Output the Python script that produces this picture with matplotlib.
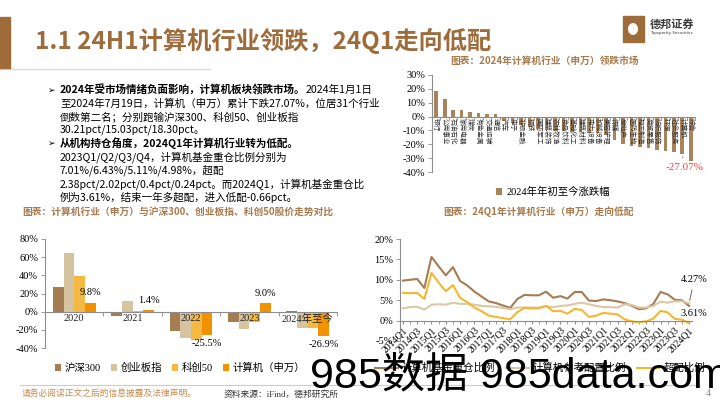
import matplotlib
matplotlib.use('Agg')
import matplotlib.pyplot as plt
from matplotlib.patches import Rectangle, Ellipse
from matplotlib.lines import Line2D
import numpy as np

W, H = 720, 405
SERIF = ['Liberation Serif', 'Noto Sans CJK SC']
CJK = ['Noto Sans CJK SC', 'DejaVu Sans']
BROWN = '#9E6B3B'
CAP = '#A87A4E'

# ---- data: top-right chart (industries, YTD 2024 %)
industries = ['银行', '公用事业', '石油石化', '家用电器', '煤炭', '有色金属', '交通运输', '通信',
              '汽车', '电子', '非银金融', '钢铁', '国防军工', '建筑装饰', '农林牧渔', '食品饮料',
              '基础化工', '建筑材料', '电力设备', '机械设备', '美容护理', '传媒', '房地产',
              '医药生物', '轻工制造', '商贸零售', '纺织服饰', '环保', '社会服务', '计算机', '综合']
ind_ret = [18.3, 12.4, 5.1, 4.4, 3.4, 2.9, 2.2, 1.5, -3.2, -4.9, -5.9, -7.8, -9.0, -9.5,
           -10.2, -10.5, -11.0, -11.2, -11.7, -12.2, -13.0, -17.0, -19.7, -21.2, -22.0,
           -22.9, -24.4, -25.1, -25.4, -27.07, -32.0]

# ---- data: bottom-left chart (annual returns %)
years = ['2020', '2021', '2022', '2023', '2024年至今']
hs300 = [27.2, -5.2, -21.6, -11.4, 0.3]
cyb = [65.0, 12.0, -29.4, -19.4, -18.5]
kc50 = [39.3, 0.4, -31.4, -11.2, -18.0]
computer = [9.8, 1.4, -25.5, 9.0, -26.9]

# ---- data: bottom-right chart (quarterly %, 2014Q1 .. 2024Q1)
quarters = [f'{y}Q{q}' for y in range(2014, 2025) for q in range(1, 5)][:41]
fund_hold = [9.8, 10.0, 10.2, 8.0, 15.6, 13.3, 11.1, 13.1, 9.7, 8.6, 7.1, 5.9, 4.7, 4.3,
             3.7, 3.1, 5.3, 6.3, 6.2, 6.2, 7.1, 5.6, 6.0, 5.4, 7.0, 7.0, 4.9, 4.8, 5.2,
             5.0, 4.7, 4.3, 3.6, 2.8, 3.0, 4.1, 7.01, 6.43, 5.11, 4.98, 3.61]
ref_alloc = [3.0, 3.3, 3.4, 2.7, 3.9, 4.0, 3.9, 4.4, 4.1, 4.1, 3.9, 3.6, 3.5, 3.4, 3.1,
             2.8, 3.2, 3.2, 3.2, 3.2, 3.5, 3.3, 3.6, 3.7, 4.1, 4.4, 4.0, 3.6, 3.3, 3.3,
             3.2, 4.0, 3.8, 3.2, 3.2, 3.6, 4.63, 4.41, 4.71, 4.74, 4.27]
overweight = [6.8, 6.7, 6.8, 5.3, 11.7, 9.3, 7.2, 8.7, 5.6, 4.5, 3.2, 2.3, 1.2, 0.9, 0.6,
              0.3, 2.1, 3.1, 3.0, 3.0, 3.6, 2.3, 2.4, 1.7, 2.9, 2.6, 0.9, 1.2, 1.9, 1.7,
              1.5, 0.3, -0.2, -0.4, -0.2, 0.5, 2.38, 2.02, 0.40, 0.24, -0.66]

fig = plt.figure(figsize=(7.2, 4.05), dpi=100)


def rect(x0, y0, x1, y1):
    return [x0 / W, 1 - y1 / H, (x1 - x0) / W, (y1 - y0) / H]


def put(x, y, s, **kw):
    return fig.text(x / W, 1 - y / H, s, **kw)


def style_axis(ax):
    for s in ['top', 'right']:
        ax.spines[s].set_visible(False)
    for s in ['left', 'bottom']:
        ax.spines[s].set_color('#8c8c8c')
        ax.spines[s].set_linewidth(0.8)
    ax.tick_params(axis='y', length=3, width=0.6, color='#8c8c8c', labelsize=7.5, pad=2)
    ax.tick_params(axis='x', length=0)
    for lb in ax.get_yticklabels():
        lb.set_family(SERIF)


def pct(v, _=None):
    return f'{v:.0f}%'


# ---- header
fig.patches.append(Rectangle((0, 1 - 68 / H), 10 / W, 51 / H, transform=fig.transFigure,
                             color='#9E6B3B', zorder=2))
fig.add_artist(Line2D([0, 210 / W], [1 - 69 / H] * 2, color='#d9d9d9', lw=1.0))
put(35, 41, '1.1 24H1计算机行业领跌，24Q1走向低配', family=CJK, fontsize=17.5,
    fontweight='bold', color=BROWN, va='center')
fig.patches.append(Rectangle((623 / W, 1 - 42 / H), 21 / W, 26 / H, transform=fig.transFigure,
                             color='#9E6B3B', zorder=2))
fig.patches.append(Ellipse((633 / W, 1 - 29 / H), 10 / W, 12 / H, transform=fig.transFigure,
                           fc='white', ec='none', zorder=3))
put(650, 24, '德邦证券', family=CJK, fontsize=8, fontweight='bold', color='#3a3a3a', va='center')
put(650, 33, 'Topsperity Securities', family=['DejaVu Sans'], fontsize=3, color='#3a3a3a',
    va='center')

# ---- bullet text
fs = 7.6
y0, dy = 90, 13.4
r = fig.canvas.get_renderer()
put(48, y0, '➢', family=['DejaVu Sans'], fontsize=6.5, va='center')
t = put(60, y0, '2024年受市场情绪负面影响，计算机板块领跌市场。', family=CJK, fontsize=fs,
        fontweight='bold', va='center')
bb = t.get_window_extent(r)
fig.text(bb.x1 / fig.bbox.width, 1 - y0 / H, '2024年1月1日', family=CJK, fontsize=fs, va='center')
plain = ['至2024年7月19日，计算机（申万）累计下跌27.07%，位居31个行业',
         '倒数第二名；分别跑输沪深300、科创50、创业板指',
         '30.21pct/15.03pct/18.30pct。']
for k, s in enumerate(plain):
    put(60, y0 + dy * (k + 1), s, family=CJK, fontsize=fs, va='center')
put(48, y0 + dy * 4, '➢', family=['DejaVu Sans'], fontsize=6.5, va='center')
put(60, y0 + dy * 4, '从机构持仓角度，2024Q1年计算机行业转为低配。', family=CJK, fontsize=fs,
    fontweight='bold', va='center')
plain2 = ['2023Q1/Q2/Q3/Q4，计算机基金重仓比例分别为',
          '7.01%/6.43%/5.11%/4.98%，超配',
          '2.38pct/2.02pct/0.4pct/0.24pct。而2024Q1，计算机基金重仓比',
          '例为3.61%，结束一年多超配，进入低配-0.66pct。']
for k, s in enumerate(plain2):
    put(60, y0 + dy * (k + 5), s, family=CJK, fontsize=fs, va='center')

# ---- chart captions
put(545, 61, '图表：2024年计算机行业（申万）领跌市场', family=CJK, fontsize=7, fontweight='bold',
    color=CAP, ha='center', va='center')
put(178, 212, '图表：计算机行业（申万）与沪深300、创业板指、科创50股价走势对比', family=CJK,
    fontsize=7, fontweight='bold', color=CAP, ha='center', va='center')
put(538, 212, '图表：24Q1年计算机行业（申万）走向低配', family=CJK, fontsize=7,
    fontweight='bold', color=CAP, ha='center', va='center')

# ---- top-right: industry bars
ax1 = fig.add_axes(rect(432, 75, 695, 172))
xi = np.arange(len(industries))
ax1.bar(xi, ind_ret, width=0.42, color='#A8845C', label='2024年年初至今涨跌幅')
ax1.set_xlim(-0.5, len(industries) - 0.5)
ax1.set_ylim(-40, 30)
ax1.set_yticks(range(-40, 31, 10))
ax1.yaxis.set_major_formatter(pct)
ax1.spines['bottom'].set_position(('data', 0))
ax1.set_xticks([])
style_axis(ax1)
ax1.set_xticks(np.arange(-0.5, len(industries), 1), minor=True)
ax1.tick_params(axis='x', which='minor', length=2, color='#8c8c8c', direction='out')
for i, name in enumerate(industries):
    ax1.text(i, -1.0, name, rotation=-90, fontsize=4.8, family=CJK, ha='center', va='top',
             color='#333333')
ci = industries.index('计算机')
ax1.annotate(f'{ind_ret[ci]:.2f}%', xy=(ci, ind_ret[ci]), xytext=(ci + 0.3, -37),
             fontsize=8, family=SERIF, color='#FF3B3B', ha='center', va='center',
             arrowprops=dict(arrowstyle='-', color='#555555', lw=0.6))
ax1.legend(loc='center', bbox_to_anchor=(553 / W, 1 - 192 / H), bbox_transform=fig.transFigure,
           frameon=False, handlelength=0.6, handleheight=0.6, handletextpad=0.4,
           prop={'family': SERIF, 'size': 7.5})

# ---- bottom-left: yearly grouped bars
ax2 = fig.add_axes(rect(45, 239, 337, 348))
xg = np.arange(len(years))
bw = 0.183
series = [(hs300, '沪深300', '#A67C52'), (cyb, '创业板指', '#D6C4A0'),
          (kc50, '科创50', '#F4B942'), (computer, '计算机（申万）', '#F39200')]
for k, (vals, name, col) in enumerate(series):
    ax2.bar(xg + (k - 1.5) * bw, vals, width=bw, color=col, label=name)
ax2.set_xlim(-0.5, len(years) - 0.5)
ax2.set_ylim(-40, 80)
ax2.set_yticks(range(-40, 81, 20))
ax2.yaxis.set_major_formatter(pct)
ax2.spines['bottom'].set_position(('data', 0))
ax2.set_xticks([])
style_axis(ax2)
ax2.set_xticks(np.arange(-0.5, len(years), 1), minor=True)
ax2.tick_params(axis='x', which='minor', length=3, color='#8c8c8c', direction='out')
for i, y in enumerate(years):
    ax2.text(i, -2.5, y, ha='center', va='top', fontsize=7.5, family=SERIF, color='#222222')
for i, v in enumerate(computer):
    if v > 0:
        ax2.annotate(f'{v:.1f}%', (i + 1.5 * bw, v), xytext=(0, 4), textcoords='offset points',
                     ha='center', va='bottom', fontsize=7.5, family=SERIF)
    else:
        ax2.annotate(f'{v:.1f}%', (i + 1.5 * bw, v), xytext=(0, -3), textcoords='offset points',
                     ha='center', va='top', fontsize=7.5, family=SERIF)
ax2.legend(loc='center', bbox_to_anchor=(180 / W, 1 - 368 / H), bbox_transform=fig.transFigure,
           ncol=4, frameon=False, handlelength=0.6, handleheight=0.6, handletextpad=0.3,
           columnspacing=1.0, prop={'family': SERIF, 'size': 7.5})

# ---- bottom-right: quarterly lines
ax3 = fig.add_axes(rect(400, 239, 692, 341))
xq = np.arange(len(quarters))
ax3.plot(xq, fund_hold, color='#A67C52', lw=1.5, label='计算机基金重仓比例')
ax3.plot(xq, ref_alloc, color='#DCC8A5', lw=1.5, label='计算机参考配置比例')
ax3.plot(xq, overweight, color='#F5B730', lw=1.5, label='超配比例')
ax3.set_xlim(-0.4, len(quarters) - 0.6)
ax3.set_ylim(-5, 20)
ax3.set_yticks(range(-5, 21, 5))
ax3.yaxis.set_major_formatter(pct)
ax3.spines['bottom'].set_position(('data', 0))
style_axis(ax3)
ax3.set_xticks(xq[::2])
ax3.set_xticklabels(quarters[::2], rotation=45, ha='right', va='top', fontsize=7,
                    family=SERIF, rotation_mode='anchor')
ax3.set_xticks(xq, minor=True)
ax3.tick_params(axis='x', which='both', length=2.5, color='#8c8c8c', pad=1)
ax3.annotate('4.27%', xy=(40, 4.27), xytext=(40.7, 10.0), fontsize=7.5, family=SERIF,
             ha='center', va='center', arrowprops=dict(arrowstyle='-', color='#555555', lw=0.6),
             annotation_clip=False)
ax3.text(40.7, 1.7, '3.61%', fontsize=7.5, family=SERIF, ha='center', va='center')
ax3.legend(loc='center', bbox_to_anchor=(540 / W, 1 - 368 / H), bbox_transform=fig.transFigure,
           ncol=3, frameon=False, handlelength=2.2, handletextpad=0.4, columnspacing=1.0,
           prop={'family': SERIF, 'size': 7.5})

# ---- footer
fig.add_artist(Line2D([20 / W, 700 / W], [1 - 385 / H] * 2, color='#d8cbb5', lw=0.8))
put(22, 394, '请务必阅读正文之后的信息披露及法律声明。', family=CJK, fontsize=6.3,
    color='#C8894A', va='center')
put(224, 394, '资料来源：iFind，德邦研究所', family=SERIF, fontsize=6.3, color='#333333',
    va='center')
put(706, 394, '4', family=SERIF, fontsize=7, color='#888888', va='center')

# ---- watermark
put(310, 376, '985数据 985data.com', family=['Liberation Sans', 'Noto Sans CJK SC'],
    fontsize=31, color='black', va='center', zorder=10)

fig.savefig('out.png', dpi=100)
